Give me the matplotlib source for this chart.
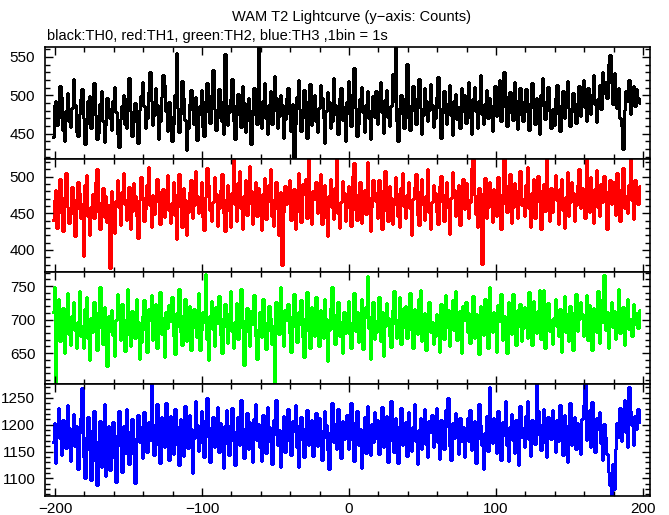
import numpy as np
import matplotlib
matplotlib.use("Agg")
import matplotlib.pyplot as plt
from matplotlib.ticker import MultipleLocator

plt.rcParams['font.family'] = ['Liberation Sans', 'DejaVu Sans']

title = "WAM T2 Lightcurve (y\u2212axis: Counts)"
subtitle = "black:TH0, red:TH1, green:TH2, blue:TH3 ,1bin = 1s"

t_start = -202   # first bin start (s)
bin_width = 1    # s

th0 = [
446,487,493,461,470,512,498,455,441,479,503,466,459,484,521,488,452,447,476,495,
508,471,437,462,493,499,458,480,516,474,443,451,489,505,467,439,461,497,484,470,
455,492,511,478,450,433,469,486,501,463,457,496,523,480,447,472,490,465,438,481,
499,517,486,458,470,504,531,492,461,475,509,488,443,466,498,527,513,479,454,491,
473,440,462,501,555,484,452,476,519,496,468,429,457,489,507,481,463,498,442,474,
486,507,459,447,492,516,478,464,500,533,482,455,471,508,493,466,450,554,487,461,
478,495,521,467,443,488,502,474,459,512,490,452,468,497,481,436,475,509,494,463,
566,483,457,492,516,471,449,487,505,462,480,525,497,458,473,501,488,444,469,496,
510,476,453,489,419,463,498,520,482,454,471,507,493,445,477,515,461,486,500,467,
452,484,513,496,470,438,479,504,491,458,466,522,487,474,449,497,509,468,485,440,
491,519,476,460,502,535,484,447,463,495,511,478,452,488,506,470,443,481,499,472,
505,463,489,517,478,451,494,507,472,460,486,528,492,566,467,441,483,501,476,458,
496,541,470,455,488,512,479,463,497,521,484,450,474,509,492,466,481,515,487,459,
471,498,524,483,445,477,506,490,462,488,514,475,448,493,502,469,485,457,510,479,
500,464,487,518,472,449,495,511,480,458,492,526,476,463,489,507,471,496,483,454,
488,512,473,497,520,466,485,531,499,460,477,504,490,468,517,483,456,494,509,475,
466,492,508,478,455,490,516,483,462,497,474,449,501,522,486,469,493,511,480,457,
482,461,497,514,476,453,488,505,471,494,519,483,460,478,503,490,464,487,512,473,
498,520,485,467,509,492,476,501,527,489,465,495,514,482,530,503,518,497,541,553,
516,489,529,502,484,510,471,460,430,481,505,493,520,476,499,512,486,508,497,490,
]

th1 = [
441,468,482,430,451,497,463,426,472,505,458,437,449,486,470,419,456,492,478,444,
463,392,488,502,447,421,459,476,443,493,510,452,429,466,484,445,473,438,461,375,
481,450,423,467,496,458,434,479,505,462,441,470,486,428,453,491,474,446,417,468,
500,472,439,456,488,513,461,432,475,449,466,497,481,436,458,483,445,471,502,455,
437,464,492,448,415,476,503,459,431,485,468,420,452,479,496,443,461,508,474,450,
469,493,445,427,472,512,488,454,439,466,499,476,433,457,482,504,451,426,470,489,
455,431,478,524,463,440,491,507,457,428,473,495,448,462,515,480,436,469,493,446,
484,458,427,476,498,442,465,489,511,447,433,470,492,456,421,479,380,452,487,463,
474,496,441,459,483,429,467,505,452,438,490,476,497,444,526,460,435,481,469,492,
450,479,503,436,462,488,445,419,473,497,459,442,485,526,451,430,466,494,477,439,
458,487,470,433,501,518,455,441,476,492,437,463,482,449,520,471,426,458,496,479,
467,444,495,476,429,482,508,453,440,487,471,435,462,499,478,446,431,484,505,460,
443,475,492,457,420,469,486,503,448,434,481,497,463,441,474,510,452,428,466,489,
478,452,436,487,501,465,439,476,493,458,422,471,506,482,447,460,488,434,469,497,
456,491,470,443,466,512,527,475,449,432,485,461,381,477,498,444,459,493,471,438,
483,464,447,499,476,429,463,526,488,452,470,503,437,458,491,475,443,482,508,461,
470,446,489,513,457,431,478,497,444,466,501,482,428,463,490,453,526,475,440,484,
452,479,502,468,436,483,497,455,430,472,506,447,465,493,478,439,461,488,511,457,
485,468,443,526,476,452,499,471,437,483,509,458,446,490,465,501,474,428,480,496,
462,493,477,448,505,466,439,483,512,457,474,450,489,526,468,442,495,479,463,487,
]

th2 = [
712,748,603,725,731,668,694,718,650,703,739,679,662,706,727,684,657,697,742,676,
690,658,716,734,672,640,703,681,726,711,655,687,749,698,664,719,692,631,706,683,
715,677,646,699,738,708,669,724,688,653,701,745,679,660,713,692,672,731,696,641,
667,705,729,684,652,716,699,736,670,689,724,657,695,741,678,703,645,711,687,722,
698,733,676,649,710,690,745,681,662,707,730,668,693,720,654,688,716,701,674,739,
655,684,712,697,768,671,640,706,728,686,660,719,695,735,677,650,702,724,689,665,
709,742,683,658,696,725,671,704,746,687,633,699,718,681,661,713,694,737,675,642,
686,712,674,731,697,656,683,720,703,664,690,604,727,708,679,748,692,661,715,699,
724,680,651,706,738,689,667,711,694,729,674,645,702,741,683,658,719,697,676,733,
693,660,715,687,672,730,701,639,684,717,749,686,663,708,726,675,697,650,712,680,
705,728,679,657,696,740,683,712,667,694,731,656,703,719,765,688,642,706,727,671,
682,699,734,668,711,646,690,725,703,676,659,714,743,694,672,700,733,663,687,718,
721,673,696,740,685,657,716,699,679,731,744,668,692,710,655,704,726,681,697,664,
676,708,687,652,723,697,671,737,689,715,660,701,729,684,742,670,695,713,650,720,
699,727,681,710,665,694,735,673,708,690,648,721,703,677,730,686,657,748,699,681,
711,684,652,722,698,738,670,705,687,650,726,693,679,738,703,662,714,691,723,668,
687,719,705,673,741,694,662,728,699,680,713,744,671,697,744,658,706,725,683,700,
664,702,730,691,676,716,652,697,735,681,709,668,720,694,655,712,738,683,701,726,
708,675,698,736,669,722,690,654,717,703,681,742,665,729,696,766,684,711,657,693,
726,689,713,671,704,745,680,698,719,662,708,731,686,701,675,723,694,710,688,715,
]

th3 = [
1168,1203,1129,1195,1231,1176,1144,1209,1188,1157,1236,1193,1132,1174,1220,1161,1198,1117,1185,1212,
1268,1140,1101,1178,1215,1152,1096,1190,1226,1133,1087,1169,1207,1121,1183,1239,1104,1162,1197,1116,
1154,1205,1138,1093,1181,1226,1160,1112,1197,1148,1230,1173,1126,1189,1210,1145,1092,1176,1219,1167,
1195,1137,1224,1183,1150,1206,1172,1276,1201,1143,1187,1238,1162,1129,1214,1192,1158,1241,1178,1135,
1216,1180,1145,1229,1198,1163,1124,1211,1187,1141,1235,1173,1156,1219,1192,1110,1176,1244,1200,1151,
1185,1226,1166,1139,1208,1250,1177,1131,1196,1214,1158,1187,1233,1149,1203,1172,1120,1197,1228,1164,
1143,1199,1231,1170,1125,1189,1215,1162,1246,1194,1137,1178,1221,1155,1206,1183,1130,1210,1239,1172,
1201,1158,1133,1219,1185,1147,1234,1196,1167,1126,1208,1182,1246,1163,1191,1122,1174,1217,1150,1198,
1230,1169,1144,1207,1188,1236,1158,1121,1199,1215,1172,1139,1194,1227,1163,1183,1209,1141,1178,1222,
1160,1213,1190,1134,1176,1226,1199,1152,1118,1187,1241,1168,1201,1155,1229,1181,1137,1207,1174,1193,
1218,1154,1185,1240,1171,1132,1205,1226,1163,1192,1119,1178,1215,1147,1235,1188,1143,1202,1167,1224,
1175,1209,1146,1192,1233,1159,1184,1217,1131,1200,1244,1170,1149,1213,1186,1128,1198,1232,1162,1189,
1205,1142,1224,1177,1151,1196,1238,1169,1127,1191,1213,1155,1182,1229,1164,1140,1207,1186,1219,1158,
1190,1231,1168,1136,1209,1182,1155,1227,1197,1250,1161,1134,1204,1176,1221,1188,1146,1212,1169,1195,
1139,1186,1213,1170,1228,1153,1192,1207,1129,1174,1238,1199,1162,1118,1185,1216,1151,1270,1193,1166,
1212,1177,1148,1226,1191,1135,1205,1181,1245,1163,1132,1196,1220,1171,1147,1208,1186,1124,1235,1178,
1193,1159,1217,1244,1174,1142,1209,1188,1164,1276,1226,1181,1152,1201,1230,1167,1139,1214,1196,1173,
1227,1184,1150,1208,1169,1236,1193,1143,1218,1177,1131,1199,1240,1162,1187,1215,1154,1204,1180,1146,
1211,1236,1276,1171,1197,1228,1158,1242,1186,1150,1213,1192,1224,1165,1134,1201,1177,1145,1112,1088,
1066,1127,1080,1154,1203,1178,1231,1169,1210,1246,1187,1158,1270,1225,1199,1163,1217,1192,1230,1205,
]

series = [th0, th1, th2, th3]
colors = ['black', 'red', '#00ff00', 'blue']
ylims = [(417, 563), (370, 524), (604, 771), (1067, 1276)]
yticks = [[450, 500, 550], [400, 450, 500], [650, 700, 750], [1100, 1150, 1200, 1250]]
xticks = [-200, -100, 0, 100, 200]

fig = plt.figure(figsize=(6.69, 5.15), dpi=100)
W, H = 669, 515
left_px, right_px = 45, 650
edges_px = [47, 159, 272, 384, 496]

for k, vals in enumerate(series):
    top, bot = edges_px[k], edges_px[k + 1]
    ax = fig.add_axes([left_px / W, 1 - bot / H, (right_px - left_px) / W, (bot - top) / H])
    v = np.asarray(vals, dtype=float)
    edges = t_start + bin_width * np.arange(len(v) + 1)
    ax.stairs(v, edges, color=colors[k], lw=1.0, baseline=None, antialiased=False)
    ax.set_xlim(-206.8, 204.8)
    ax.set_ylim(*ylims[k])
    ax.set_yticks(yticks[k])
    ax.yaxis.set_minor_locator(MultipleLocator(10))
    ax.set_xticks(xticks)
    ax.xaxis.set_minor_locator(MultipleLocator(20))
    ax.tick_params(which='both', direction='in', top=True, right=True,
                   width=1.0, labelsize=11, color='black')
    ax.tick_params(which='major', length=6, pad=7)
    ax.tick_params(which='minor', length=3.5)
    ax.tick_params(axis='x', which='major', pad=4)
    for s in ax.spines.values():
        s.set_linewidth(1.2)
    if k < 3:
        ax.tick_params(axis='x', labelbottom=False)

fig.text(352 / W, 1 - 17 / H, title, ha='center', va='center', fontsize=10.5)
fig.text(47 / W, 1 - 36 / H, subtitle, ha='left', va='center', fontsize=10.5)

fig.savefig("out.png", dpi=100)
